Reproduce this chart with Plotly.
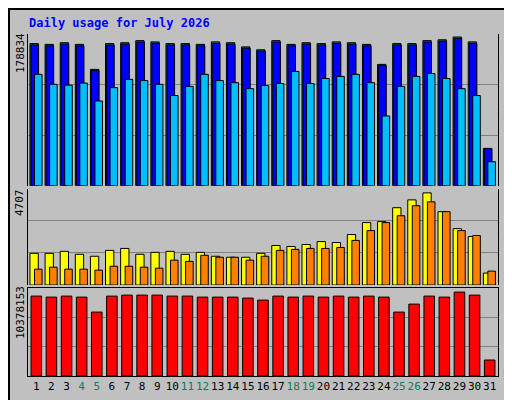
import plotly.graph_objects as go

days = list(range(1, 32))
weekend = [4, 5, 11, 12, 18, 19, 25, 26]

# values
hits = [171000, 170000, 172000, 170000, 140000, 171000, 172000, 174500, 173000, 171000,
        171000, 170000, 173000, 172000, 167000, 163500, 174500, 170000, 172000, 171000,
        173000, 172000, 170000, 146000, 171000, 171000, 174500, 175500, 178834, 173000, 45000]
files = [v * 0.99 for v in hits]
pages = [134000, 122000, 121000, 123500, 102000, 118000, 128000, 126500, 122000, 108500,
         119500, 134000, 126500, 124000, 116800, 120500, 123000, 137500, 123000, 129000,
         131500, 134000, 124000, 84000, 119500, 131500, 135000, 129000, 116800, 108500, 29000]
sites = [1620, 1620, 1720, 1570, 1470, 1770, 1870, 1570, 1670, 1720,
         1570, 1670, 1470, 1420, 1420, 1620, 2020, 1970, 2070, 2220,
         2170, 2580, 3190, 3240, 3950, 4350, 4707, 3750, 2880, 2480, 610]
visits = [810, 910, 810, 810, 760, 960, 960, 910, 860, 1270,
          1210, 1520, 1420, 1420, 1270, 1470, 1770, 1820, 1870, 1870,
          1920, 2280, 2780, 3190, 3540, 4050, 4250, 3750, 2780, 2530, 710]
kbytes = [9883000, 9760000, 9883000, 9760000, 7907000, 9883000, 10007000, 10007000, 10007000, 9883000,
          9883000, 9760000, 9760000, 9760000, 9636000, 9389000, 9883000, 9760000, 9883000, 9760000,
          9883000, 9760000, 9883000, 9760000, 7907000, 8895000, 9883000, 9760000, 10378153, 10007000, 1977000]

line = dict(color="black", width=1)
fig = go.Figure()
fig.add_bar(x=days, y=hits, marker=dict(color="#00805c", line=line), width=0.55, offset=-0.42, yaxis="y3")
fig.add_bar(x=days, y=files, marker=dict(color="#0000ff", line=line), width=0.5, offset=-0.35, yaxis="y3")
fig.add_bar(x=days, y=pages, marker=dict(color="#00bfff", line=line), width=0.5, offset=-0.12, yaxis="y3")
fig.add_bar(x=days, y=sites, marker=dict(color="#ffff00", line=line), width=0.55, offset=-0.42, yaxis="y2")
fig.add_bar(x=days, y=visits, marker=dict(color="#ff8000", line=line), width=0.5, offset=-0.12, yaxis="y2")
fig.add_bar(x=days, y=kbytes, marker=dict(color="#ff0000", line=line), width=0.7, offset=-0.35, yaxis="y")

ticktext = [f"<span style='color:#00805c'>{d}</span>" if d in weekend else str(d) for d in days]
grid = dict(showgrid=True, gridcolor="#808080", gridwidth=1, showticklabels=False,
            zeroline=False, showline=True, linecolor="black", mirror=True, fixedrange=True)
r3, r2, r1 = 178834 * 150 / 147, 4707 * 97 / 93, 10378153 * 88 / 84
fig.update_layout(
    width=512, height=400, barmode="overlay", showlegend=False,
    paper_bgcolor="#c0c0c0", plot_bgcolor="#c0c0c0",
    margin=dict(l=20, r=22, t=26, b=32),
    font=dict(family="DejaVu Sans Mono", size=11, color="black"),
    xaxis=dict(range=[0.45, 31.55], tickvals=days, ticktext=ticktext, ticks="", tickangle=0,
               showline=True, linecolor="black", mirror=True, showgrid=False),
    yaxis=dict(domain=[0, 0.257], range=[0, r1], tickvals=[r1 / 3, r1 * 2 / 3], **grid),
    yaxis2=dict(domain=[0.266, 0.547], range=[0, r2], tickvals=[r2 / 3, r2 * 2 / 3], **grid),
    yaxis3=dict(domain=[0.556, 1], range=[0, r3], tickvals=[r3 / 3, r3 * 2 / 3], **grid),
)


def px(x, y):
    # pixel position -> paper coordinates of the plot area
    return (x - 20) / 470, (368 - y) / 342


ann = [
    ("<b>Daily usage for July 2026</b>", 19, 15, 0, "left", dict(color="#0000ff", size=12)),
    ("178834", 12, 45, -90, "center", None),
    ("4707", 12, 195, -90, "center", None),
    ("10378153", 12, 305, -90, "center", None),
    ("<span style='color:#00bfff'>Pages</span> / <span style='color:#0000ff'>Files</span>"
     " / <span style='color:#00805c'>Hits</span>", 500, 100, -90, "center", None),
    ("<span style='color:#ff8000'>Sites</span> / <span style='color:#ffff00'>Visits</span>",
     500, 228, -90, "center", None),
    ("<span style='color:#ff0000'>KBytes</span>", 500, 352, -90, "center", None),
]
for text, x, y, ang, xa, font in ann:
    xp, yp = px(x, y)
    fig.add_annotation(text=text, x=xp, y=yp, xref="paper", yref="paper", showarrow=False,
                       textangle=ang, xanchor=xa, yanchor="middle", font=font)
fig.add_shape(type="rect", xref="paper", yref="paper", x0=-19 / 470, x1=1 + 21 / 470,
              y0=-31 / 342, y1=1 + 25 / 342, line=dict(color="black", width=2))
fig.write_html("out.html")
